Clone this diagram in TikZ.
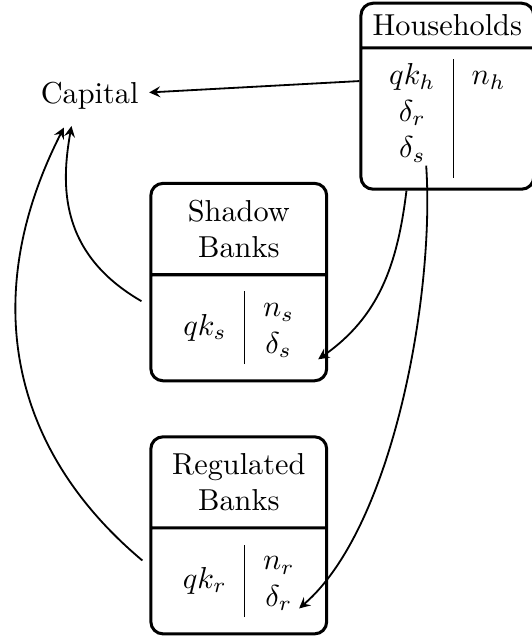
\documentclass[tikz,border=0pt]{standalone}
\usepackage{amsmath}
\usetikzlibrary{shapes.multipart}

\begin{document}
\begin{tikzpicture}[every node/.style={font=\normalsize},
 sector/.style={rectangle split,rectangle split parts=2,draw,line width=1pt,rounded corners,anchor=north},
 bank/.style={sector,align=center,minimum width=2.04cm,inner ysep=5pt},
 flow/.style={-stealth,semithick}]
\useasboundingbox (0,0) rectangle (6.17,7.39);
\node[sector] (H) at (5.19,7.37) {Households\nodepart{two}\begin{tabular}{c|c}$qk_h$ & $n_h$\\ $\delta_r$ & \\ $\delta_s$ & \\[3pt]\end{tabular}};
\node[bank] (S) at (2.77,5.28) {Shadow\\ Banks\nodepart{two}\begin{tabular}{c|c}$qk_s$ & \begin{tabular}{@{}c@{}}$n_s$\\ $\delta_s$\end{tabular}\end{tabular}};
\node[bank] (R) at (2.77,2.34) {Regulated\\ Banks\nodepart{two}\begin{tabular}{c|c}$qk_r$ & \begin{tabular}{@{}c@{}}$n_r$\\ $\delta_r$\end{tabular}\end{tabular}};
\node (C) at (1.04,6.28) {Capital};
\draw[flow] ([yshift=5pt]H.west)--(C);
\draw[flow] ([shift={(-2.6pt,-6.3pt)}]S.west) to[out=150,in=260,out looseness=1.3,in looseness=0.8] ([shift={(-6pt,-2pt)}]C.south);
\draw[flow] ([shift={(-2.3pt,-8.3pt)}]R.west) to[out=140,in=243,looseness=1.05] ([shift={(-8.5pt,-2.5pt)}]C.south);
\draw[flow] ([xshift=-13.5pt]H.south) to[out=263,in=35] ([shift={(-3.3pt,7.6pt)}]S.south east);
\draw[flow] ([shift={(-7pt,8.3pt)}]H.south) to[out=274,in=41,looseness=0.7] ([shift={(-9.6pt,8.9pt)}]R.south east);
\end{tikzpicture}
\end{document}
